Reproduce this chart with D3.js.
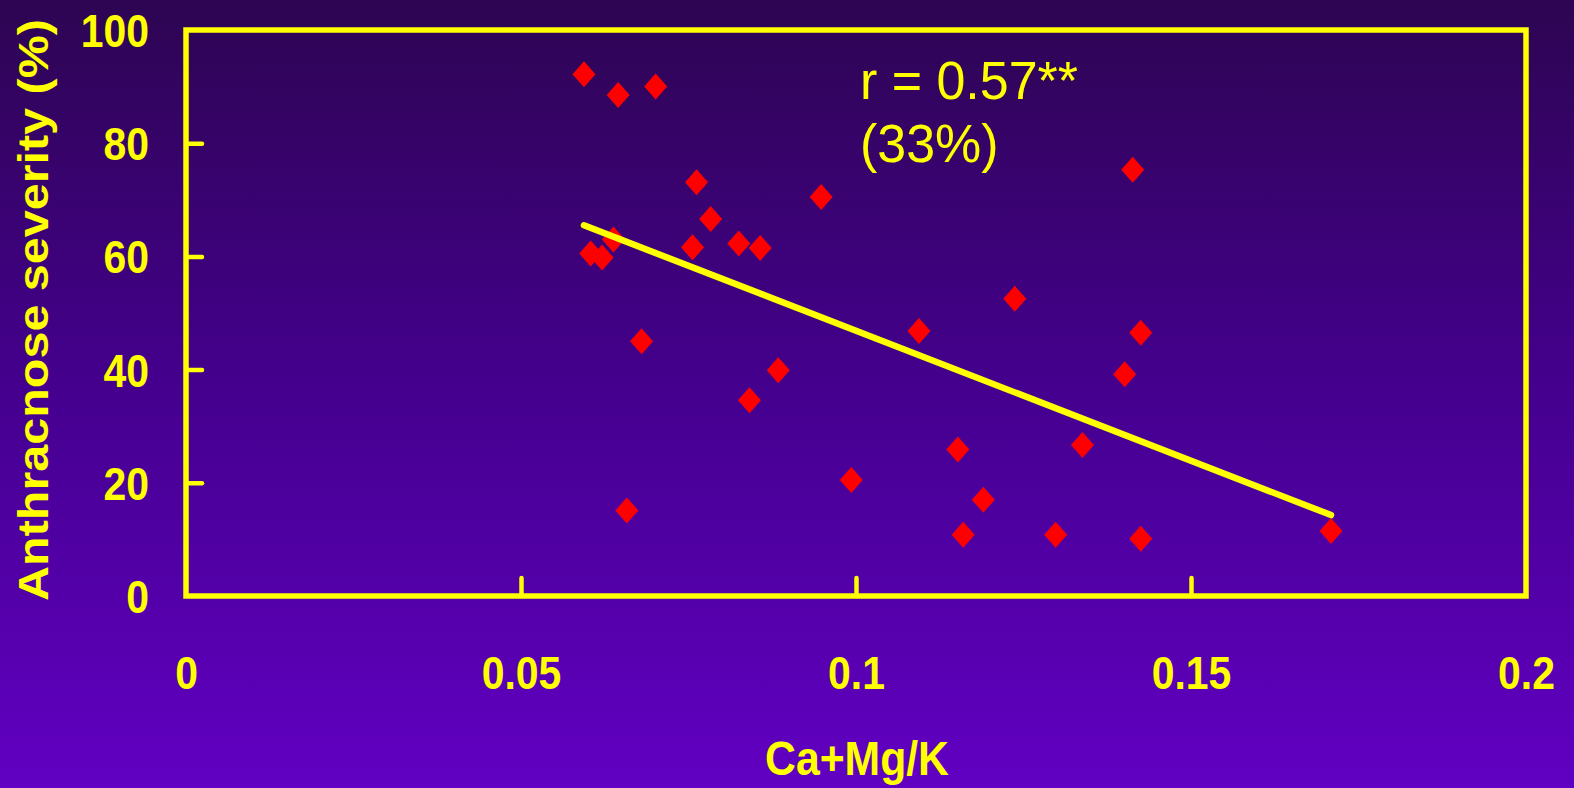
<!DOCTYPE html>
<html>
<head>
<meta charset="utf-8">
<script src="https://cdn.jsdelivr.net/npm/d3@7"></script>
<style>
  html, body { margin: 0; padding: 0; overflow: hidden; }
  svg { display: block; }
  text { font-family: "Liberation Sans", Arial, sans-serif; fill: #ffff00; }
</style>
</head>
<body>
<div id="chart"></div>
<script>
var width = 1574, height = 788;

// Ca+Mg/K ratio vs anthracnose severity (%)
var ratioValues = [0.0594, 0.0645, 0.0701, 0.0762, 0.0948, 0.0783, 0.0638, 0.0604, 0.0621, 0.0756,
                   0.0825, 0.0857, 0.0680, 0.0884, 0.0841, 0.0993, 0.0658, 0.1237, 0.1094, 0.1425,
                   0.1401, 0.1152, 0.1338, 0.1190, 0.1160, 0.1298, 0.1425, 0.1413, 0.1709];
var severityValues = [92.2, 88.5, 90.0, 73.1, 70.5, 66.6, 63.0, 60.5, 59.8, 61.6,
                      62.3, 61.5, 45.0, 39.9, 34.6, 20.5, 15.1, 52.5, 46.8, 46.5,
                      39.2, 25.9, 26.7, 17.0, 10.8, 10.8, 10.1, 75.3, 11.5];

// regression line end points
var trendX = [0.0594, 0.1709];
var trendY = [65.5, 14.3];

var xTicks = [0, 0.05, 0.1, 0.15, 0.2];
var yTicks = [0, 20, 40, 60, 80, 100];
var xTickLabels = ["0", "0.05", "0.1", "0.15", "0.2"];
var statLines = ["r = 0.57**", "(33%)"];

var svg = d3.select("#chart").append("svg")
    .attr("width", width)
    .attr("height", height);

var defs = svg.append("defs");
var grad = defs.append("linearGradient")
    .attr("id", "bg")
    .attr("x1", 0).attr("y1", 0).attr("x2", 0).attr("y2", 1);
grad.append("stop").attr("offset", "0%").attr("stop-color", "#2d0552");
grad.append("stop").attr("offset", "50%").attr("stop-color", "#45008f");
grad.append("stop").attr("offset", "100%").attr("stop-color", "#6100c2");

svg.append("rect")
    .attr("width", width)
    .attr("height", height)
    .attr("fill", "url(#bg)");

var x = d3.scaleLinear().domain([0, 0.2]).range([186, 1526]);
var y = d3.scaleLinear().domain([0, 100]).range([596, 30]);

// frame
svg.append("rect")
    .attr("x", x(0))
    .attr("y", y(100))
    .attr("width", x(0.2) - x(0))
    .attr("height", y(0) - y(100))
    .attr("fill", "none")
    .attr("stroke", "#ffff00")
    .attr("stroke-width", 5.5);

// axes (ticks inward)
var yAxis = d3.axisLeft(y).tickValues(yTicks).tickSizeInner(-16).tickSizeOuter(0).tickPadding(37);
var gy = svg.append("g").attr("transform", "translate(" + x(0) + ",0)").call(yAxis);

var xAxis = d3.axisBottom(x).tickValues(xTicks).tickSizeInner(-18).tickSizeOuter(0).tickPadding(60)
    .tickFormat(function (d, i) { return xTickLabels[i]; });
var gx = svg.append("g").attr("transform", "translate(0," + y(0) + ")").call(xAxis);

[gx, gy].forEach(function (g) {
    g.select(".domain").remove();
    g.selectAll(".tick line")
        .attr("stroke", "#ffff00")
        .attr("stroke-width", 4.5)
        .attr("stroke-linecap", "round");
});
gy.selectAll(".tick line").filter(function (d) { return d === 0 || d === 100; }).remove();
gx.selectAll(".tick line").filter(function (d) { return d === 0 || d === 0.2; }).remove();

// tick labels: bold, narrowed
gy.selectAll(".tick text")
    .attr("x", null).attr("dy", null)
    .attr("transform", "translate(-37,16.5) scale(0.87,1)")
    .style("font-size", "47px")
    .style("font-weight", "bold")
    .attr("fill", "#ffff00");

gx.selectAll(".tick text")
    .attr("y", null).attr("dy", null)
    .attr("transform", "translate(0,93) scale(0.87,1)")
    .style("font-size", "47px")
    .style("font-weight", "bold")
    .attr("fill", "#ffff00");

// regression line
var line = d3.line()
    .x(function (d) { return x(d[0]); })
    .y(function (d) { return y(d[1]); });

// red diamonds
var hw = 11.5, hh = 13;
svg.selectAll(".pt")
    .data(d3.zip(ratioValues, severityValues))
    .enter()
    .append("path")
    .attr("class", "pt")
    .attr("d", function (d) {
        var cx = x(d[0]), cy = y(d[1]);
        return "M" + cx + "," + (cy - hh) + "L" + (cx + hw) + "," + cy +
               "L" + cx + "," + (cy + hh) + "L" + (cx - hw) + "," + cy + "Z";
    })
    .attr("fill", "#ff0000");

// line drawn over the points like the original
svg.append("path")
    .datum(d3.zip(trendX, trendY))
    .attr("d", line)
    .attr("fill", "none")
    .attr("stroke", "#ffff00")
    .attr("stroke-width", 6.5)
    .attr("stroke-linecap", "round");

// stats annotation
svg.selectAll(".stat")
    .data(statLines)
    .enter()
    .append("text")
    .attr("class", "stat")
    .attr("transform", function (d, i) { return "translate(860," + (99 + i * 63) + ") scale(0.98,1)"; })
    .style("font-size", "53px")
    .text(function (d) { return d; });

// axis titles
svg.append("text")
    .attr("transform", "translate(857,775) scale(0.89,1)")
    .attr("text-anchor", "middle")
    .style("font-size", "48px")
    .style("font-weight", "bold")
    .text("Ca+Mg/K");

svg.append("text")
    .attr("transform", "translate(48,310) rotate(-90) scale(1.01,0.9)")
    .attr("text-anchor", "middle")
    .style("font-size", "48px")
    .style("font-weight", "bold")
    .text("Anthracnose severity (%)");
</script>
</body>
</html>
